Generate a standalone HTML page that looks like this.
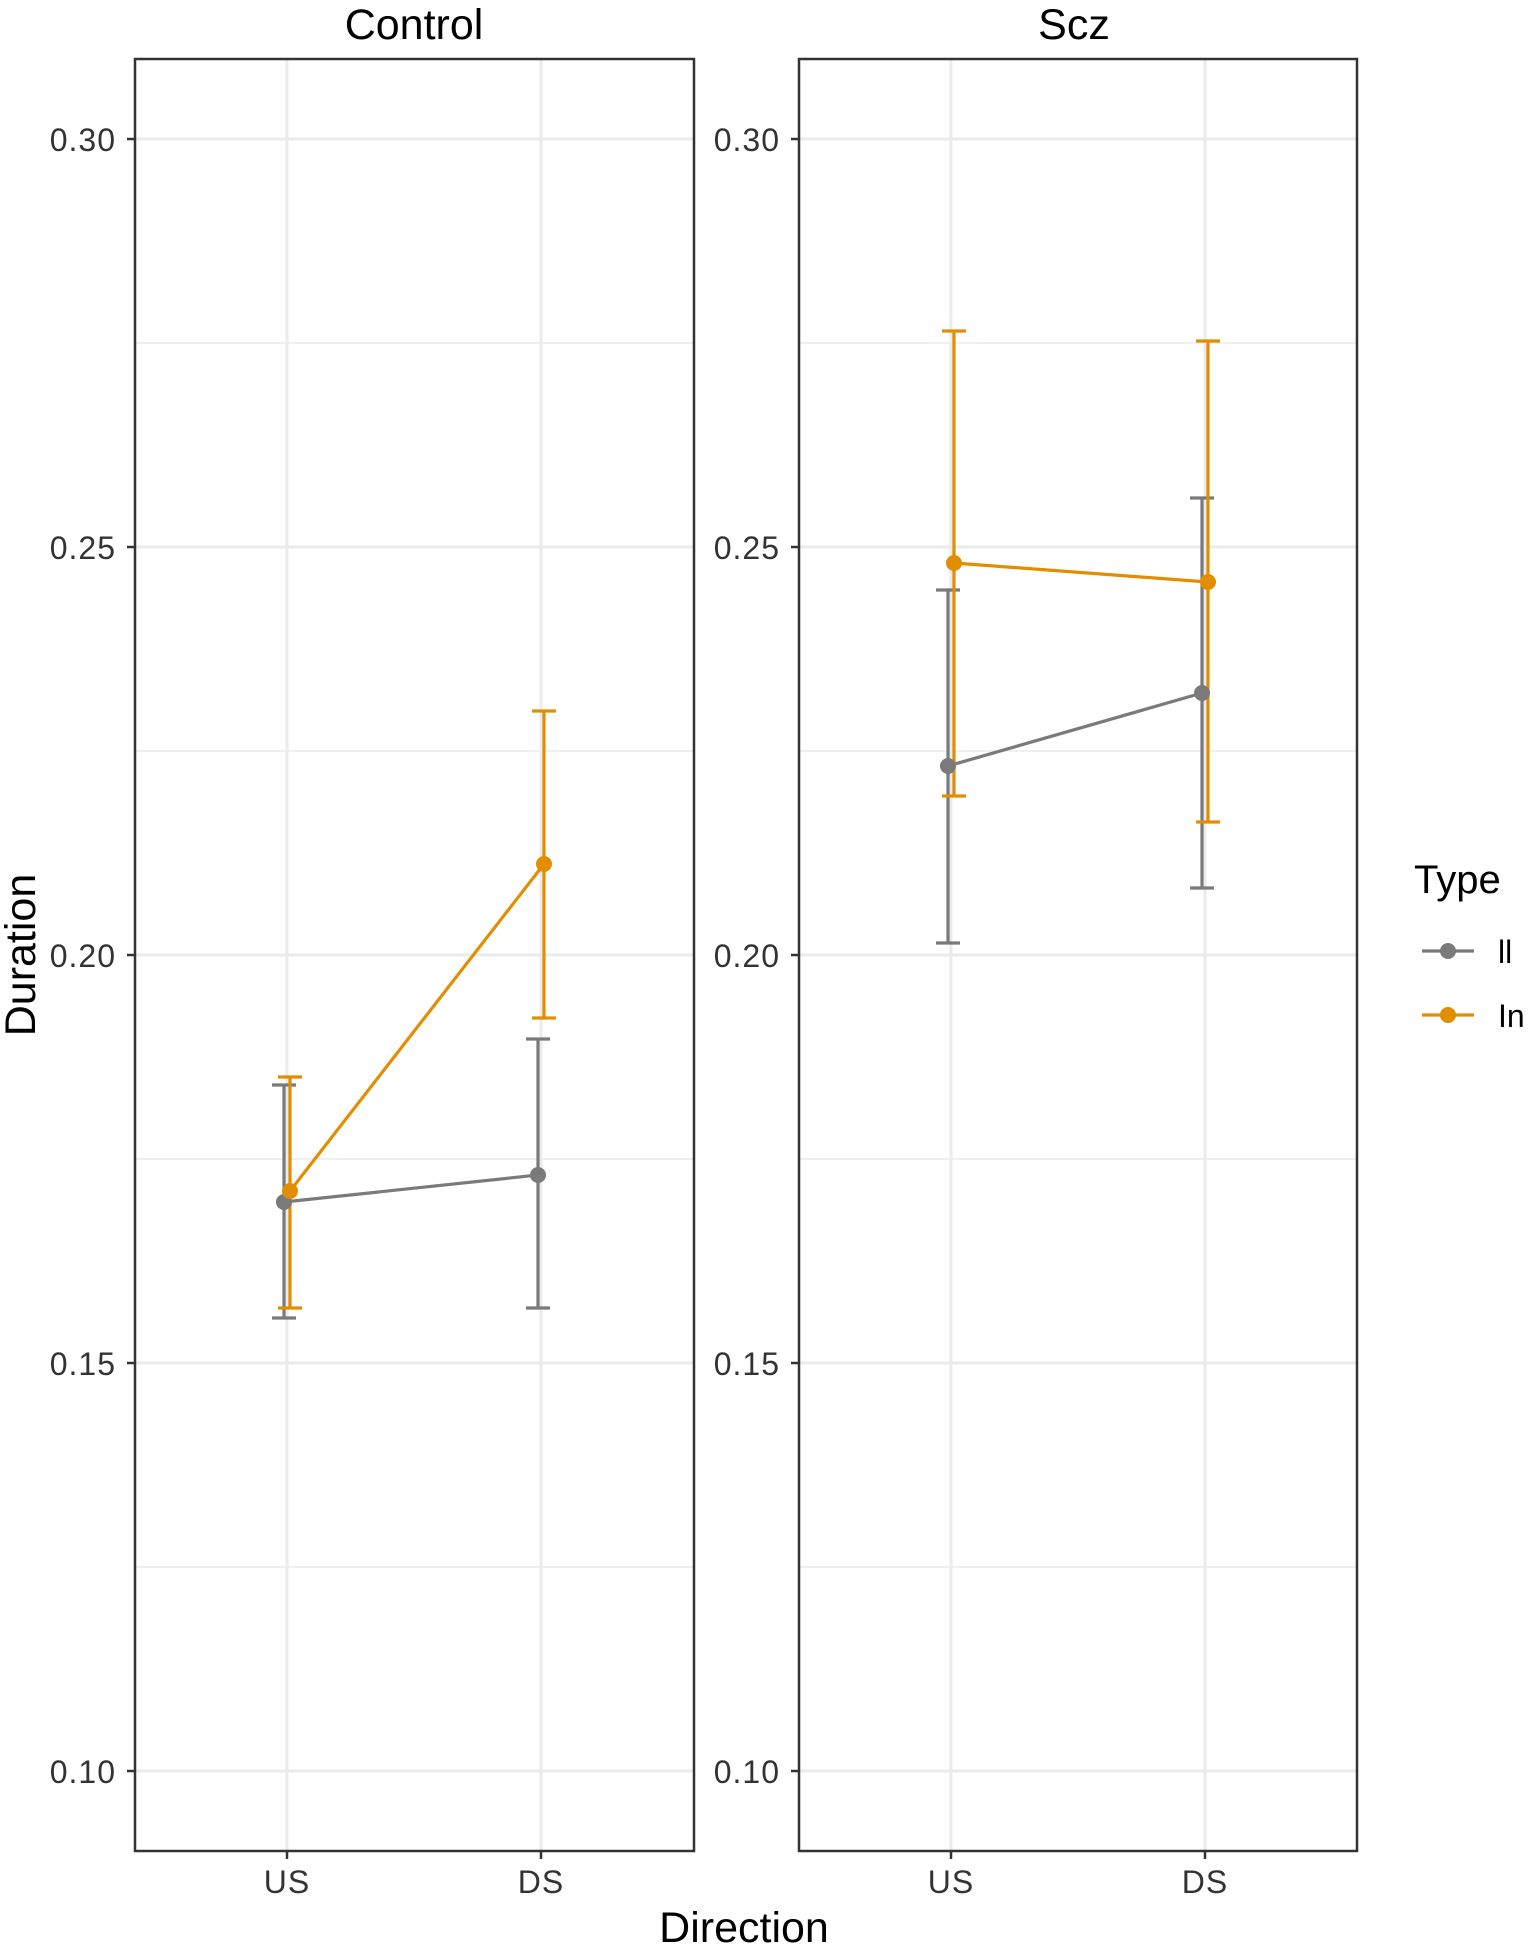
<!DOCTYPE html>
<html><head><meta charset="utf-8"><style>body{margin:0;background:#fff}svg{display:block}</style></head><body>
<svg width="1535" height="1951" xmlns="http://www.w3.org/2000/svg" font-family="Liberation Sans, sans-serif">
<rect width="1535" height="1951" fill="#fff"/>
<g id="grid" stroke="#ebebeb">
<g stroke-width="1.5">
<line x1="135" x2="694" y1="343" y2="343"/><line x1="135" x2="694" y1="751" y2="751"/><line x1="135" x2="694" y1="1159" y2="1159"/><line x1="135" x2="694" y1="1567" y2="1567"/>
<line x1="799" x2="1357" y1="343" y2="343"/><line x1="799" x2="1357" y1="751" y2="751"/><line x1="799" x2="1357" y1="1159" y2="1159"/><line x1="799" x2="1357" y1="1567" y2="1567"/>
</g>
<g stroke-width="3">
<line x1="135" x2="694" y1="139" y2="139"/><line x1="135" x2="694" y1="547" y2="547"/><line x1="135" x2="694" y1="955" y2="955"/><line x1="135" x2="694" y1="1363" y2="1363"/><line x1="135" x2="694" y1="1771" y2="1771"/>
<line x1="799" x2="1357" y1="139" y2="139"/><line x1="799" x2="1357" y1="547" y2="547"/><line x1="799" x2="1357" y1="955" y2="955"/><line x1="799" x2="1357" y1="1363" y2="1363"/><line x1="799" x2="1357" y1="1771" y2="1771"/>
<line x1="287" x2="287" y1="59" y2="1851"/><line x1="541" x2="541" y1="59" y2="1851"/>
<line x1="951" x2="951" y1="59" y2="1851"/><line x1="1205" x2="1205" y1="59" y2="1851"/>
</g>
</g>
<g fill="none" stroke-width="3.2">
<g stroke="#7a7a7a">
<line x1="284" x2="284" y1="1085" y2="1318"/><line x1="272" x2="296" y1="1085" y2="1085"/><line x1="272" x2="296" y1="1318" y2="1318"/>
<line x1="538" x2="538" y1="1039" y2="1308"/><line x1="526" x2="550" y1="1039" y2="1039"/><line x1="526" x2="550" y1="1308" y2="1308"/>
<line x1="284" x2="538" y1="1202" y2="1175"/>
<line x1="948" x2="948" y1="590" y2="943"/><line x1="936" x2="960" y1="590" y2="590"/><line x1="936" x2="960" y1="943" y2="943"/>
<line x1="1202" x2="1202" y1="498" y2="888"/><line x1="1190" x2="1214" y1="498" y2="498"/><line x1="1190" x2="1214" y1="888" y2="888"/>
<line x1="948" x2="1202" y1="766" y2="693"/>
</g>
<g stroke="#E38D00">
<line x1="290" x2="290" y1="1077" y2="1308"/><line x1="278" x2="302" y1="1077" y2="1077"/><line x1="278" x2="302" y1="1308" y2="1308"/>
<line x1="544" x2="544" y1="711" y2="1018"/><line x1="532" x2="556" y1="711" y2="711"/><line x1="532" x2="556" y1="1018" y2="1018"/>
<line x1="290" x2="544" y1="1191" y2="864"/>
<line x1="954" x2="954" y1="331" y2="796"/><line x1="942" x2="966" y1="331" y2="331"/><line x1="942" x2="966" y1="796" y2="796"/>
<line x1="1208" x2="1208" y1="341" y2="822"/><line x1="1196" x2="1220" y1="341" y2="341"/><line x1="1196" x2="1220" y1="822" y2="822"/>
<line x1="954" x2="1208" y1="563" y2="582"/>
</g>
</g>
<g fill="#7a7a7a"><circle cx="284" cy="1202" r="8"/><circle cx="538" cy="1175" r="8"/><circle cx="948" cy="766" r="8"/><circle cx="1202" cy="693" r="8"/></g>
<g fill="#E38D00"><circle cx="290" cy="1191" r="8"/><circle cx="544" cy="864" r="8"/><circle cx="954" cy="563" r="8"/><circle cx="1208" cy="582" r="8"/></g>
<g fill="none" stroke="#333" stroke-width="2.5">
<rect x="135" y="59" width="559" height="1792"/><rect x="799" y="59" width="558" height="1792"/>
</g>
<g stroke="#333" stroke-width="2.5">
<line x1="127" x2="135" y1="139" y2="139"/><line x1="127" x2="135" y1="547" y2="547"/><line x1="127" x2="135" y1="955" y2="955"/><line x1="127" x2="135" y1="1363" y2="1363"/><line x1="127" x2="135" y1="1771" y2="1771"/>
<line x1="791" x2="799" y1="139" y2="139"/><line x1="791" x2="799" y1="547" y2="547"/><line x1="791" x2="799" y1="955" y2="955"/><line x1="791" x2="799" y1="1363" y2="1363"/><line x1="791" x2="799" y1="1771" y2="1771"/>
<line x1="287" x2="287" y1="1851" y2="1859"/><line x1="541" x2="541" y1="1851" y2="1859"/><line x1="951" x2="951" y1="1851" y2="1859"/><line x1="1205" x2="1205" y1="1851" y2="1859"/>
</g>
<g font-size="32" fill="#333" text-anchor="end" letter-spacing="1">
<text x="116" y="151">0.30</text><text x="116" y="559">0.25</text><text x="116" y="967">0.20</text><text x="116" y="1375">0.15</text><text x="116" y="1783">0.10</text>
<text x="780" y="151">0.30</text><text x="780" y="559">0.25</text><text x="780" y="967">0.20</text><text x="780" y="1375">0.15</text><text x="780" y="1783">0.10</text>
</g>
<g font-size="32" fill="#333" text-anchor="middle" letter-spacing="1">
<text x="287" y="1893">US</text><text x="541" y="1893">DS</text><text x="951" y="1893">US</text><text x="1205" y="1893">DS</text>
</g>
<g font-size="43" fill="#000" text-anchor="middle">
<text x="414" y="39">Control</text><text x="1074" y="39">Scz</text>
<text x="744" y="1942">Direction</text>
<text transform="translate(35,955) rotate(-90)">Duration</text>
</g>
<text x="1414" y="893" font-size="40">Type</text>
<line x1="1422" x2="1474" y1="951" y2="951" stroke="#7a7a7a" stroke-width="3.2"/><circle cx="1448" cy="951" r="8" fill="#7a7a7a"/>
<line x1="1422" x2="1474" y1="1015" y2="1015" stroke="#E38D00" stroke-width="3.2"/><circle cx="1448" cy="1015" r="8" fill="#E38D00"/>
<text x="1498" y="963" font-size="32">ll</text><text x="1498" y="1027" font-size="32">In</text>
</svg>
</body></html>
